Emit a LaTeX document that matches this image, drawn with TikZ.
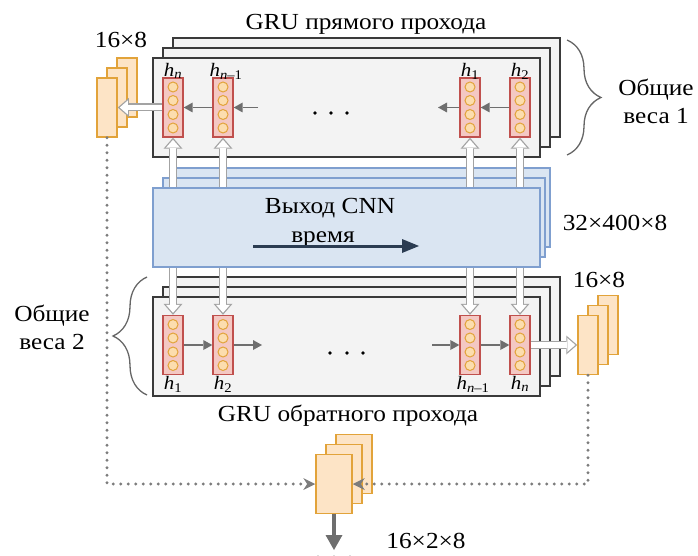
\documentclass[tikz,border=0pt]{standalone}
\usepackage{fontspec}
\setmainfont{Liberation Serif}[FakeStretch=1.1]
\usetikzlibrary{arrows.meta,decorations.pathreplacing}

\definecolor{boxline}{HTML}{3A3A3A}
\definecolor{boxfill}{HTML}{F3F3F3}
\definecolor{cnnline}{HTML}{7F9FCF}
\definecolor{cnnfill}{HTML}{DAE5F2}
\definecolor{cellline}{HTML}{C0504D}
\definecolor{cellfill}{HTML}{F4C8C3}
\definecolor{unitline}{HTML}{E2A33A}
\definecolor{unitfill}{HTML}{FCDDAE}
\definecolor{vecline}{HTML}{E2A33A}
\definecolor{vecfill}{HTML}{FDE4C6}
\definecolor{pipegray}{HTML}{A3A3A3}
\definecolor{flowgray}{HTML}{6E6E6E}
\definecolor{dotgray}{HTML}{7C7C7C}
\definecolor{timeline}{HTML}{2B3C52}
\definecolor{bracegray}{HTML}{666666}

\newcommand{\hst}[1]{\textit{h}\textsubscript{#1}}

\begin{document}
\begin{tikzpicture}[x=1pt,y=-1pt,
	txt/.style={font=\fontsize{23}{28}\selectfont,inner sep=0pt},
	idx/.style={font=\fontsize{19}{21}\selectfont,inner sep=0pt},
	gru/.style={draw=boxline,line width=1.6pt,fill=boxfill,minimum width=387pt,minimum height=99pt},
	cnn/.style={draw=cnnline,line width=1.2pt,fill=cnnfill,minimum height=79pt},
	cell/.style={draw=cellline,line width=1.4pt,fill=cellfill,minimum width=20pt,minimum height=59pt},
	unit/.style={circle,draw=unitline,line width=1pt,fill=unitfill,minimum size=10pt,inner sep=0pt},
	vec/.style={draw=vecline,line width=1.5pt,fill=vecfill,minimum width=20pt,minimum height=59pt},
	flow/.style={flowgray,line width=1.8pt,-{Triangle[length=9pt,width=10pt,line width=0pt]}},
	pipe/.style={pipegray,line width=8pt,-{Triangle[length=11pt,width=19pt,line width=0pt]}},
	pipein/.style={white,line width=5.4pt,shorten >=2pt,-{Triangle[length=8pt,width=14pt,line width=0pt]}},
	link/.style={dotgray,line width=3.4pt,line cap=round,dash pattern=on 0pt off 7.5pt,-{Stealth[length=12pt,width=12pt,line width=0pt]}},
	outarr/.style={flowgray,line width=4pt,-{Triangle[length=15pt,width=17pt,line width=0pt]}},
	timearr/.style={timeline,line width=3pt,-{Triangle[length=17pt,width=14pt,line width=0pt]}},
	wbrace/.style={decorate,decoration={brace,amplitude=34pt},draw=bracegray,line width=1.3pt}]
	\clip (0,0) rectangle (698,556);

	% forward and backward GRU, three copies each
	\foreach \k in {2,1} \node[gru] (fwd\k) at (346.5+10*\k,107.5-10*\k) {};
	\node[gru] (fwd) at (346.5,107.5) {};
	\foreach \k in {2,1} \node[gru] (bwd\k) at (346.5+10*\k,346.5-10*\k) {};
	\node[gru] (bwd) at (346.5,346.5) {};

	% hidden states
	\foreach \c/\cx/\cy in {tn/173/107.5,tm/223/107.5,t1/470/107.5,t2/520/107.5,b1/173/345,b2/223/345,bm/470/345,bn/520/345}{
		\node[cell] (\c) at (\cx,\cy) {};
		\foreach \dy [count=\j] in {-20.5,-7,7,20.5}
			\node[unit] (\c-\j) at (\cx,\cy+\dy) {};
	}
	\node[idx,anchor=base] (ltn) at ([yshift=1pt]tn.north) {\hst{\textit{n}}};
	\node[idx,anchor=base] (ltm) at ([xshift=3pt,yshift=1pt]tm.north) {\hst{\textit{n}–1}};
	\node[idx,anchor=base] (lt1) at ([yshift=1pt]t1.north) {\hst{1}};
	\node[idx,anchor=base] (lt2) at ([yshift=1pt]t2.north) {\hst{2}};
	\node[idx,anchor=base] (lb1) at ([yshift=-14pt]b1.south) {\hst{1}};
	\node[idx,anchor=base] (lb2) at ([yshift=-14pt]b2.south) {\hst{2}};
	\node[idx,anchor=base] (lbm) at ([xshift=3pt,yshift=-14pt]bm.south) {\hst{\textit{n}–1}};
	\node[idx,anchor=base] (lbn) at ([yshift=-14pt]bn.south) {\hst{\textit{n}}};

	% recurrence
	\coordinate (tin) at (258,107.5);
	\coordinate (tout) at (438,107.5);
	\draw[flow] (tm) -- (tn);
	\draw[flow] (tin) -- (tm);
	\draw[flow] (t2) -- (t1);
	\draw[flow] (t1) -- (tout);
	\coordinate (bout) at (262,345);
	\coordinate (bin) at (432,345);
	\draw[flow] (b1) -- (b2);
	\draw[flow] (b2) -- (bout);
	\draw[flow] (bin) -- (bm);
	\draw[flow] (bm) -- (bn);
	\foreach \dx in {315,331,347} \fill (\dx,113) circle (1.8pt);
	\foreach \dx in {330,347,363} \fill (\dx,353) circle (1.8pt);

	% CNN output, inputs to both directions
	\node[cnn,minimum width=375pt] (cnn2) at (362.5,207.5) {};
	\node[cnn,minimum width=382pt] (cnn1) at (354,217.5) {};
	\foreach \c in {tn,tm,t1,t2}{
		\draw[pipe] (\c |- cnn1.center) -- (\c.south);
		\draw[pipein] (\c |- cnn1.center) -- (\c.south);
	}
	\foreach \c in {b1,b2,bm,bn}{
		\draw[pipe] (\c |- cnn1.center) -- (\c.north);
		\draw[pipein] (\c |- cnn1.center) -- (\c.north);
	}
	\node[cnn,minimum width=387pt] (cnn) at (346.5,227.5) {};
	\node[txt,anchor=base] (cnnname) at (330,213) {Выход CNN};
	\node[txt,anchor=base] (tname) at (323,242) {время};
	\coordinate (ts) at (253,246);
	\coordinate (te) at (419,246);
	\draw[timearr] (ts) -- (te);
	\node[txt,anchor=base] (csize) at (615,230) {32×400×8};

	% last states of each pass
	\foreach \k in {2,1} \node[vec] (lv\k) at (107+10*\k,107.5-10*\k) {};
	\node[vec] (lv) at (107,107.5) {};
	\foreach \k in {2,1} \node[vec] (rv\k) at (588+10*\k,345-10*\k) {};
	\node[vec] (rv) at (588,345) {};
	\foreach \k in {2,1} \node[vec,minimum width=36pt] (ov\k) at (334+10*\k,484-10*\k) {};
	\node[vec,minimum width=36pt] (ov) at (334,484) {};
	\draw[pipe] (tn) -- (lv);
	\draw[pipein] (tn) -- (lv);
	\draw[pipe] (bn) -- (rv);
	\draw[pipein] (bn) -- (rv);
	\node[txt,anchor=base] (lsize) at (121,48) {16×8};
	\node[txt,anchor=base] (rsize) at (599,287) {16×8};

	% concatenation
	\draw[link] (lv.south) -- (lv.south |- ov.west) -- (ov.west);
	\draw[link] (rv.south) -- (rv.south |- ov.east) -- (ov.east);
	\coordinate (oend) at (334,550);
	\draw[outarr] (ov) -- (oend);
	\foreach \dx in {318,334,350} \fill[flowgray] (\dx,558) circle (2.4pt);
	\node[txt,anchor=base] (osize) at (426,548) {16×2×8};

	% titles and shared weights
	\node[txt,anchor=base] (fwdname) at (366,30) {GRU прямого прохода};
	\node[txt,anchor=base] (bwdname) at (348,421) {GRU обратного прохода};
	\coordinate (bra) at (567,40);
	\coordinate (brb) at (567,155);
	\draw[wbrace] (bra) -- (brb);
	\node[txt,align=center] (share1) at (656,101) {Общие\\веса 1};
	\coordinate (brc) at (147,395);
	\coordinate (brd) at (147,277);
	\draw[wbrace] (brc) -- (brd);
	\node[txt,align=center] (share2) at (52,327) {Общие\\веса 2};
\end{tikzpicture}
\end{document}
